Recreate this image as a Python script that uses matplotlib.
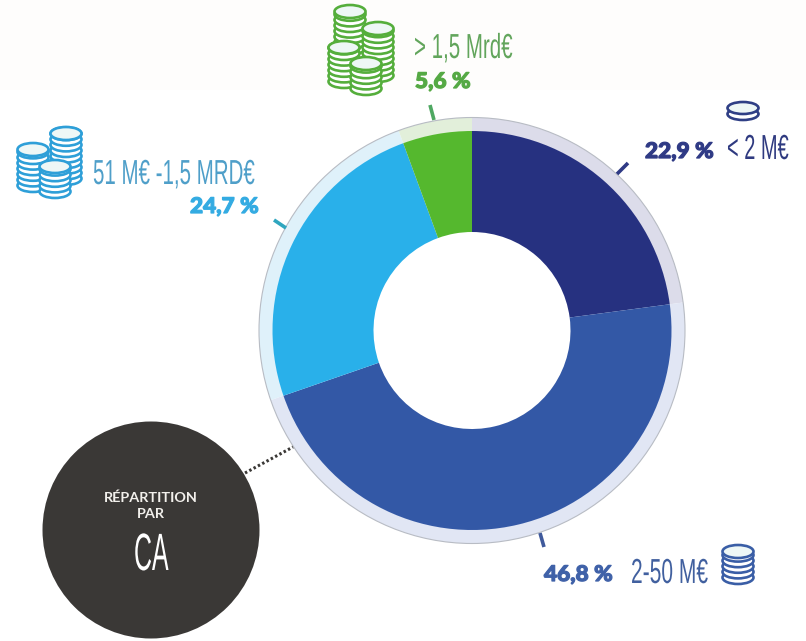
import matplotlib
matplotlib.use("Agg")
import matplotlib.pyplot as plt
import matplotlib.patheffects as pe
from matplotlib.patches import Circle, Ellipse, Rectangle
from matplotlib.transforms import Affine2D

W, H = 806, 641

shares = [22.9, 46.8, 24.7, 5.6]
share_labels = ["22,9 %", "46,8 %", "24,7 %", "5,6 %"]
range_labels = ["< 2 M€", "2-50 M€", "51 M€ -1,5 MRD€", "> 1,5 Mrd€"]
title_small = ["RÉPARTITION", "PAR"]
title_big = "CA"

pie_colors = ["#263180", "#3358a6", "#29b0ea", "#55b82e"]
ring_colors = ["#dcdcea", "#e1e6f4", "#dff1fa", "#e2efda"]
label_colors = ["#2f3a80", "#41609f", "#4f9fc9", "#62a55c"]
bold_colors = ["#2f3a85", "#3f61a8", "#33abe2", "#55a944"]
coin_colors = ["#2f3f85", "#3a5ea6", "#2e9fd8", "#55ae3c"]


class Squeeze(pe.AbstractPathEffect):
    # condensed look, installed fonts are too wide
    def __init__(self, sx, sy=1.0, lw=0.0):
        super().__init__()
        self.sx = sx
        self.sy = sy
        self.lw = lw

    def draw_path(self, renderer, gc, tpath, affine, rgbFace=None):
        gc0 = renderer.new_gc()
        gc0.copy_properties(gc)
        if self.lw > 0:
            gc0.set_linewidth(self.lw)
            gc0.set_foreground(rgbFace)
        renderer.draw_path(gc0, tpath, Affine2D().scale(self.sx, self.sy) + affine, rgbFace)
        gc0.restore()


def Y(py):
    return H - py


def coin_stack(ax, cx, top, bottom, color, w=31, h=13, step=5.6, z=5):
    # ellipses from the bottom up, each one hides most of the one below
    y = bottom - h / 2
    ys = []
    while y > top + h / 2 + 0.1:
        ys.append(y)
        y -= step
    ys.append(top + h / 2)
    for i, yy in enumerate(ys):
        face = "#eef7f6" if i == len(ys) - 1 else "white"
        ax.add_patch(Ellipse((cx, Y(yy)), w, h, fc=face, ec=color, lw=1.9, zorder=z + i * 0.01))


def thin(ax, x, py, s, color, size=18, sx=0.86, sy=1.39):
    ax.text(x, Y(py), s, color=color, fontsize=size, family="Liberation Sans",
            ha="left", va="baseline", zorder=8, path_effects=[Squeeze(sx, sy)])


def heavy(ax, x, py, s, color, size=15.5):
    ax.text(x, Y(py), s, color=color, fontsize=size, family="Lato", weight="black",
            ha="left", va="baseline", zorder=8, path_effects=[Squeeze(1.05, 1.0, 0.9)])


fig = plt.figure(figsize=(W / 100, H / 100), dpi=100, facecolor="white")
ax = fig.add_axes([0, 0, 1, 1])

# very light band at the top of the picture
ax.add_patch(Rectangle((0, Y(90)), W, 90, fc="#fefdfc", ec="none", zorder=0))

cx, cy = 472, 330.5
ax.pie(shares, colors=ring_colors, startangle=90, counterclock=False, radius=213,
       center=(cx, Y(cy)), wedgeprops={"width": 14, "linewidth": 0}, frame=True)
ax.add_patch(Circle((cx, Y(cy)), 213, fc="none", ec="#b8bcc4", lw=0.8, zorder=3))
ax.pie(shares, colors=pie_colors, startangle=90, counterclock=False, radius=199.5,
       center=(cx, Y(cy)), wedgeprops={"width": 101, "linewidth": 0}, frame=True)
ax.set_xlim(0, W)
ax.set_ylim(0, H)
ax.set_aspect("auto")
ax.axis("off")

# small ticks between ring and labels
ticks = [((617, 174), (628, 163)), ((540, 533), (544, 547)),
         ((274, 220), (286, 228)), ((430, 105), (434, 120))]
tick_colors = ["#2f3a85", "#3f5a9c", "#2fa6bf", "#4fa862"]
for (a, b), c in zip(ticks, tick_colors):
    ax.plot([a[0], b[0]], [Y(a[1]), Y(b[1])], color=c, lw=2.6, zorder=6, solid_capstyle="butt")

# labels
heavy(ax, 645, 158, share_labels[0], bold_colors[0])
thin(ax, 727, 159, range_labels[0], label_colors[0], sx=0.80)
heavy(ax, 544, 581, share_labels[1], bold_colors[1])
thin(ax, 631, 583, range_labels[1], label_colors[1], sx=0.84)
thin(ax, 93, 184, range_labels[2], label_colors[2], sx=0.82)
heavy(ax, 190, 213, share_labels[2], bold_colors[2])
thin(ax, 414, 58, range_labels[3], label_colors[3], sx=0.82)
heavy(ax, 415, 88, share_labels[3], bold_colors[3])

# coins
coin_stack(ax, 743, 102, 120, coin_colors[0], w=31, h=12, step=6)
coin_stack(ax, 738, 545, 584, coin_colors[1])
coin_stack(ax, 66, 127, 185, coin_colors[2])
coin_stack(ax, 33, 143, 192, coin_colors[2], z=6)
coin_stack(ax, 55, 160, 198, coin_colors[2], z=7)
coin_stack(ax, 350, 5, 60, coin_colors[3])
coin_stack(ax, 378, 22, 82, coin_colors[3], z=6)
coin_stack(ax, 344, 41, 88, coin_colors[3], z=7)
coin_stack(ax, 366, 57, 95, coin_colors[3], z=7.5)

# dark badge
ax.plot([245, 293], [Y(473), Y(447)], color="#3a3836", lw=2.2, ls=(0, (0.8, 0.8)), zorder=3)
ax.add_patch(Circle((151, Y(530)), 108.5, fc="#3a3836", ec="none", zorder=4))
ax.text(151, Y(502), title_small[0], color="#f2f0ec", fontsize=10.4, family="Lato", weight="bold",
        ha="center", va="baseline", zorder=8)
ax.text(151, Y(518), title_small[1], color="#f2f0ec", fontsize=10.4, family="Lato", weight="bold",
        ha="center", va="baseline", zorder=8)
thin(ax, 134, 570, title_big, "white", size=28, sx=0.64, sy=1.35)

fig.savefig("out.png", dpi=100, facecolor="white")
